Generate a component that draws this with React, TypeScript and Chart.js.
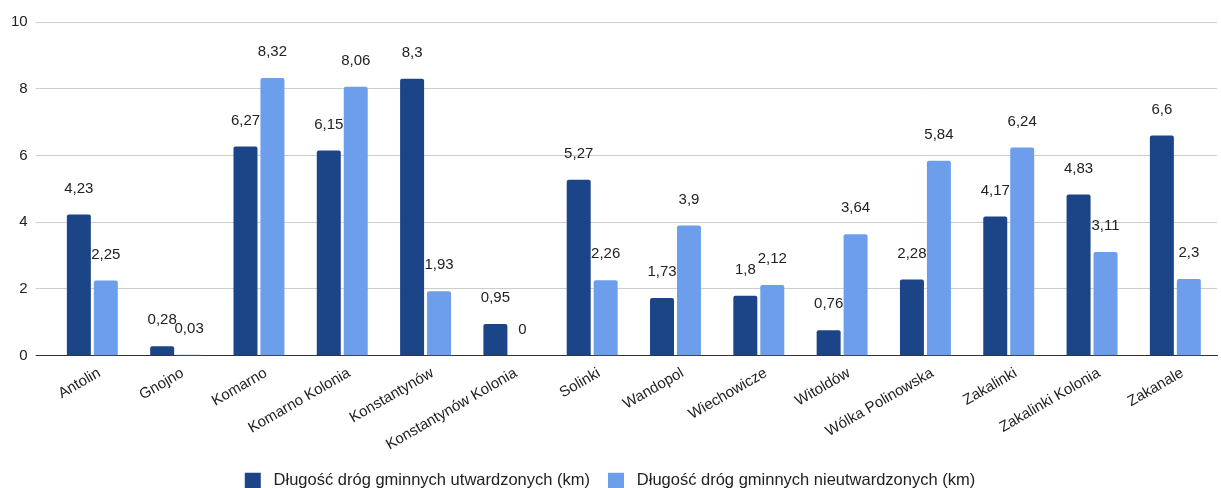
import React, { useEffect, useRef } from "react";
import { Chart, registerables } from "chart.js";

Chart.register(...registerables);

const categories = [
  "Antolin",
  "Gnojno",
  "Komarno",
  "Komarno Kolonia",
  "Konstantynów",
  "Konstantynów Kolonia",
  "Solinki",
  "Wandopol",
  "Wiechowicze",
  "Witoldów",
  "Wólka Polinowska",
  "Zakalinki",
  "Zakalinki Kolonia",
  "Zakanale",
];

const paved = [4.23, 0.28, 6.27, 6.15, 8.3, 0.95, 5.27, 1.73, 1.8, 0.76, 2.28, 4.17, 4.83, 6.6];
const unpaved = [2.25, 0.03, 8.32, 8.06, 1.93, 0, 2.26, 3.9, 2.12, 3.64, 5.84, 6.24, 3.11, 2.3];

const seriesNames = [
  "Długość dróg gminnych utwardzonych (km)",
  "Długość dróg gminnych nieutwardzonych (km)",
];

const yTicks = [0, 2, 4, 6, 8, 10];

const FONT = "'Liberation Sans', Arial, sans-serif";

const valueLabels = {
  id: "valueLabels",
  afterDatasetsDraw(chart: any) {
    const ctx = chart.ctx;
    ctx.save();
    ctx.font = `15px ${FONT}`;
    ctx.fillStyle = "#222222";
    ctx.textAlign = "center";
    ctx.textBaseline = "middle";
    chart.data.datasets.forEach((ds: any, di: number) => {
      const meta = chart.getDatasetMeta(di);
      meta.data.forEach((bar: any, i: number) => {
        const v = ds.data[i];
        const txt = String(v).replace(".", ",");
        ctx.fillText(txt, bar.x, bar.y - 26);
      });
    });
    ctx.restore();
  },
};

const radius = (c: any) => {
  const v = c.raw;
  return typeof v === "number" && v < 0.1 ? 0 : 2;
};

export default function App() {
  const ref = useRef<HTMLCanvasElement | null>(null);
  useEffect(() => {
    document.body.style.margin = "0";
    if (!ref.current) return;
    const chart = new Chart(ref.current, {
      type: "bar",
      data: {
        labels: categories,
        datasets: [
          {
            label: seriesNames[0],
            data: paved,
            backgroundColor: "#1c4587",
            borderRadius: radius,
            categoryPercentage: 0.647,
            barPercentage: 0.89,
          },
          {
            label: seriesNames[1],
            data: unpaved,
            backgroundColor: "#6d9eeb",
            borderRadius: radius,
            categoryPercentage: 0.647,
            barPercentage: 0.89,
          },
        ],
      },
      options: {
        animation: false,
        responsive: false,
        maintainAspectRatio: false,
        layout: { padding: { top: 22, right: 4, left: 3, bottom: -11 } },
        plugins: {
          legend: {
            position: "bottom",
            labels: {
              boxWidth: 16,
              boxHeight: 16,
              padding: 18,
              color: "#222222",
              font: { family: FONT, size: 16.5 },
              generateLabels: (ch: any) => {
                const items = Chart.defaults.plugins.legend.labels.generateLabels(ch);
                return items.map((it: any) => ({ ...it, text: " " + it.text }));
              },
            },
          },
          tooltip: { enabled: false },
        },
        scales: {
          x: {
            grid: { display: false },
            border: { display: true, color: "#333333" },
            ticks: {
              color: "#222222",
              font: { family: FONT, size: 15 },
              maxRotation: 30,
              minRotation: 30,
              autoSkip: false,
              padding: 0.5,
              labelOffset: 7,
            },
          },
          y: {
            min: 0,
            max: 10,
            afterBuildTicks: (axis: any) => {
              axis.ticks = yTicks.map((v) => ({ value: v }));
            },
            border: { display: false },
            grid: {
              color: (c: any) => (c.tick && c.tick.value === 0 ? "#333333" : "#cccccc"),
              tickLength: 15,
              tickColor: (c: any) => (c.tick && c.tick.value === 0 ? "#333333" : "#cccccc"),
            },
            ticks: {
              color: "#222222",
              font: { family: FONT, size: 15 },
              padding: 8,
            },
          },
        },
      },
      plugins: [valueLabels],
    });
    return () => chart.destroy();
  }, []);
  return (
    <div style={{ width: 1221, height: 488 }}>
      <canvas ref={ref} width={1221} height={488} style={{ display: "block" }} />
    </div>
  );
}
